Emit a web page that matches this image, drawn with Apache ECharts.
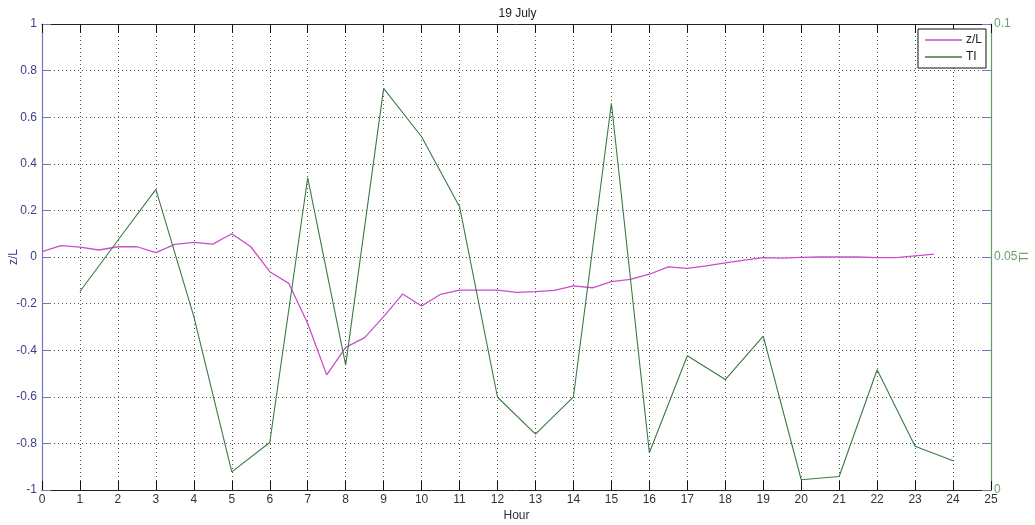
<!DOCTYPE html>
<html>
<head>
<meta charset="utf-8">
<script src="https://cdn.jsdelivr.net/npm/echarts@6/dist/echarts.min.js"></script>
<style>html,body{margin:0;padding:0;background:#fff;}#c{width:1035px;height:525px;}</style>
</head>
<body>
<div id="c"></div>
<script>
const titleText = '19 July';
const xName = 'Hour';
const seriesNames = ['z/L', 'TI'];
const zlHours = [0,0.5,1,1.5,2,2.5,3,3.5,4,4.5,5,5.5,6,6.5,7,7.5,8,8.5,9,9.5,10,10.5,11,11.5,12,12.5,13,13.5,14,14.5,15,15.5,16,16.5,17,17.5,18,18.5,19,19.5,20,20.5,21,21.5,22,22.5,23,23.5];
const zlValues = [0.023,0.049,0.042,0.030,0.044,0.044,0.019,0.054,0.063,0.055,0.100,0.044,-0.063,-0.113,-0.285,-0.506,-0.388,-0.346,-0.256,-0.159,-0.210,-0.160,-0.142,-0.142,-0.142,-0.152,-0.149,-0.143,-0.124,-0.132,-0.106,-0.096,-0.074,-0.042,-0.049,-0.038,-0.025,-0.013,-0.003,-0.005,-0.002,0.000,0.000,0.000,-0.003,-0.003,0.005,0.012];
const tiHours = [1,2,3,4,5,6,7,8,9,10,11,12,13,14,15,16,17,18,19,20,21,22,23,24];
const tiValues = [0.0426,0.0536,0.0645,0.0372,0.0039,0.0102,0.0670,0.0268,0.0862,0.0758,0.0608,0.0199,0.0120,0.0200,0.0830,0.0080,0.0288,0.0237,0.0330,0.0022,0.0029,0.0258,0.0094,0.0063];
const xTicks = {min: 0, max: 25, interval: 1};
const leftTicks = {min: -1, max: 1, interval: 0.2};
const rightTicks = {min: 0, max: 0.1, interval: 0.05};

const zlColor = '#c94fc9';
const tiColor = '#3a7a44';
const leftAxisColor = '#7676b6';
const leftLabelColor = '#3e3e8a';
const rightAxisColor = '#5e9e68';
const rightLabelColor = '#6a9e70';
const font = 'Liberation Sans, Arial, sans-serif';
const grid = {color: '#555', type: [1, 3], width: 1};

const chart = echarts.init(document.getElementById('c'), null, {renderer: 'canvas'});
chart.setOption({
  animation: false,
  backgroundColor: '#fff',
  textStyle: {fontFamily: font},
  title: {text: titleText, left: 'center', top: 3, textStyle: {fontSize: 12, fontWeight: 'normal', color: '#222', fontFamily: font}},
  grid: {left: 42, right: 44, top: 24, bottom: 35, containLabel: false, outerBoundsMode: 'none'},
  legend: {
    data: seriesNames.map((n, i) => ({name: n, icon: 'rect'})),
    orient: 'vertical', right: 1035 - 986, top: 29,
    itemWidth: 37, itemHeight: 1.6, itemGap: 5,
    padding: [5, 4, 5, 7],
    backgroundColor: '#fff', borderColor: '#111', borderWidth: 1, borderRadius: 0,
    textStyle: {fontSize: 12, color: '#222', fontFamily: font, padding: [0, 0, 0, -1]}
  },
  xAxis: [
    {type: 'value', position: 'bottom', min: xTicks.min, max: xTicks.max, interval: xTicks.interval,
     name: xName, nameLocation: 'middle', nameGap: 20, nameMoveOverlap: false, nameTextStyle: {fontSize: 12, color: '#333'},
     axisLine: {show: true, onZero: false, lineStyle: {color: '#222', width: 1}},
     axisTick: {show: true, inside: true, length: 9, lineStyle: {color: '#111', width: 1}},
     axisLabel: {fontSize: 12, color: '#333', margin: 4},
     splitLine: {show: true, lineStyle: grid}},
    {type: 'value', position: 'top', min: xTicks.min, max: xTicks.max, interval: xTicks.interval,
     axisLine: {show: true, onZero: false, lineStyle: {color: '#222', width: 1}},
     axisTick: {show: true, inside: true, length: 9, lineStyle: {color: '#111', width: 1}},
     axisLabel: {show: false}, splitLine: {show: false}}
  ],
  yAxis: [
    {type: 'value', position: 'left', min: leftTicks.min, max: leftTicks.max, interval: leftTicks.interval,
     name: seriesNames[0], nameLocation: 'middle', nameRotate: 90, nameGap: 22, nameMoveOverlap: false,
     nameTextStyle: {fontSize: 12, color: leftLabelColor},
     axisLine: {show: true, onZero: false, lineStyle: {color: leftAxisColor, width: 1.2}},
     axisTick: {show: true, inside: true, length: 9, lineStyle: {color: leftAxisColor}},
     axisLabel: {fontSize: 12, color: leftLabelColor, margin: 5},
     splitLine: {show: true, lineStyle: grid}},
    {type: 'value', position: 'right', min: rightTicks.min, max: rightTicks.max, interval: rightTicks.interval,
     name: seriesNames[1], nameLocation: 'middle', nameRotate: 90, nameGap: 28, nameMoveOverlap: false,
     nameTextStyle: {fontSize: 12, color: rightLabelColor},
     axisLine: {show: true, onZero: false, lineStyle: {color: rightAxisColor, width: 1.2}},
     axisTick: {show: true, inside: true, length: 9, lineStyle: {color: rightAxisColor}},
     axisLabel: {fontSize: 12, color: rightLabelColor, margin: 3},
     splitLine: {show: false}},
    {type: 'value', position: 'right', min: leftTicks.min, max: leftTicks.max, interval: leftTicks.interval,
     axisLine: {show: false, onZero: false},
     axisTick: {show: true, inside: true, length: 9, lineStyle: {color: leftAxisColor}},
     axisLabel: {show: false}, splitLine: {show: false}}
  ],
  series: [
    {name: seriesNames[0], type: 'line', xAxisIndex: 0, yAxisIndex: 0, showSymbol: false, symbol: 'none',
     lineStyle: {color: zlColor, width: 1.3}, itemStyle: {color: zlColor},
     data: zlHours.map((h, i) => [h, zlValues[i]])},
    {name: seriesNames[1], type: 'line', xAxisIndex: 0, yAxisIndex: 1, showSymbol: false, symbol: 'none',
     lineStyle: {color: tiColor, width: 1.1}, itemStyle: {color: tiColor},
     data: tiHours.map((h, i) => [h, tiValues[i]])}
  ]
});
</script>
</body>
</html>
